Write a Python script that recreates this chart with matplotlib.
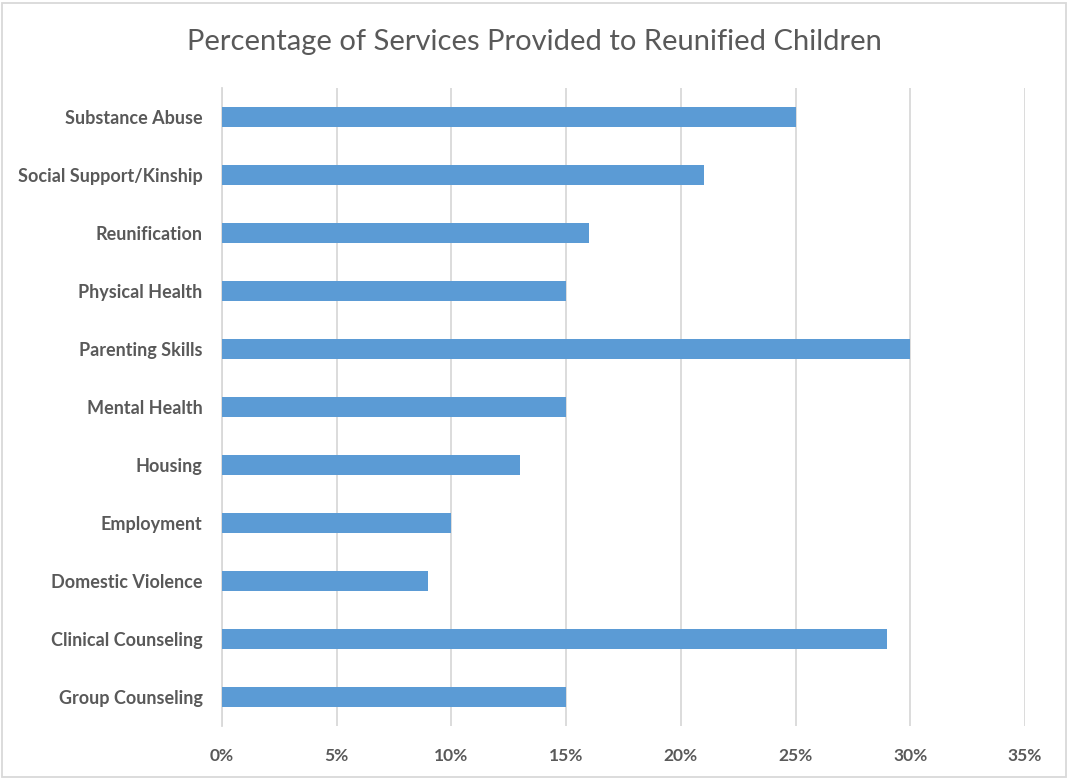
import matplotlib.pyplot as plt
from matplotlib.patches import Rectangle
from matplotlib.ticker import FuncFormatter

# Servicios (de abajo hacia arriba) y porcentaje de cada uno
servicios = ['Group Counseling', 'Clinical Counseling', 'Domestic Violence', 'Employment',
             'Housing', 'Mental Health', 'Parenting Skills', 'Physical Health',
             'Reunification', 'Social Support/Kinship', 'Substance Abuse']
porcentajes = [0.15, 0.29, 0.09, 0.10, 0.13, 0.15, 0.30, 0.15, 0.16, 0.21, 0.25]
ticks_x = [0, 0.05, 0.10, 0.15, 0.20, 0.25, 0.30, 0.35]

plt.rcParams['font.family'] = ['Lato', 'DejaVu Sans']

fig = plt.figure(figsize=(10.68, 7.79), dpi=100)
ax = fig.add_axes([222 / 1068, 1 - 726 / 779, (1025 - 222) / 1068, (726 - 88) / 779])

posiciones = range(len(servicios))
ax.barh(posiciones, porcentajes, height=0.35, color='#5B9BD5', zorder=3)

ax.set_xlim(0, 0.35)
ax.set_ylim(-0.5, len(servicios) - 0.5)
ax.set_xticks(ticks_x)
ax.xaxis.set_major_formatter(FuncFormatter(lambda v, p: f'{v * 100:.0f}%'))
ax.set_yticks(list(posiciones))
ax.set_yticklabels(servicios, fontsize=13, fontweight='bold', color='#595959')
ax.tick_params(axis='x', labelsize=12.5, labelcolor='#595959', length=0, pad=16)
ax.tick_params(axis='y', length=0, pad=14)
for lbl in ax.get_xticklabels():
    lbl.set_fontweight('bold')

ax.grid(axis='x', color='#D9D9D9', linewidth=1.3, zorder=0)
for lado in ['top', 'right', 'bottom']:
    ax.spines[lado].set_visible(False)
ax.spines['left'].set_color('#D9D9D9')
ax.spines['left'].set_linewidth(1.3)

fig.text(0.5, 1 - 42 / 779, 'Percentage of Services Provided to Reunified Children',
         ha='center', va='center', fontsize=21, color='#595959')

# Marco exterior del grafico
fig.patches.append(Rectangle((2 / 1068, 2 / 779), 1064 / 1068, 774 / 779,
                             transform=fig.transFigure, fill=False,
                             edgecolor='#D9D9D9', linewidth=1.3))

fig.savefig('out.png', dpi=100)
